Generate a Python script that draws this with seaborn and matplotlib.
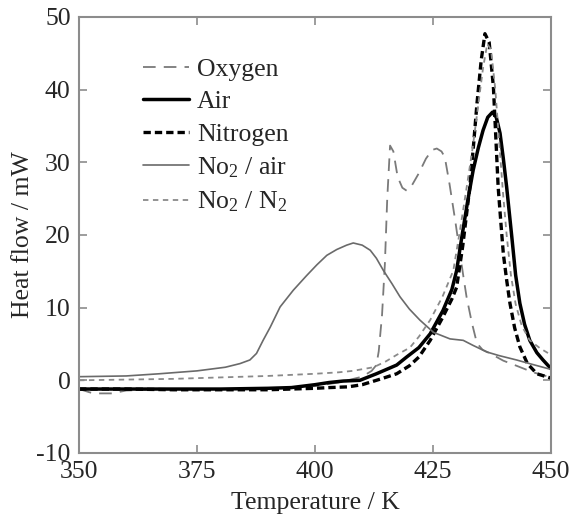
import matplotlib
matplotlib.use('Agg')
import numpy as np
import pandas as pd
import matplotlib.pyplot as plt
import seaborn as sns

# --- data (temperature in K, heat flow in mW) ---
oxygen_t = [350, 353, 357, 360, 370, 380, 390, 400, 405, 410, 412, 413, 413.5, 414.2, 414.8,
            415.3, 415.9, 416.6, 417.5, 418.5, 419.4, 420.5, 422, 423.5, 424.8, 425.8, 426.8,
            427.5, 428.5, 429.7, 430.7, 431.5, 432.1, 433.2, 434.3, 435.5, 437.1, 439.9, 442.7,
            446.2, 450]
oxygen_hf = [-1.2, -1.8, -1.8, -1.4, -1.2, -1.2, -1.1, -0.8, -0.3, 0.5, 1.3, 2.1, 4, 9, 16,
             25, 32.3, 31.5, 28, 26.5, 26.1, 26.8, 28.5, 30.5, 31.7, 31.9, 31.5,
             30.7, 27, 22, 17.5, 14, 11.5, 8, 5.1, 4.2, 3.7, 2.7, 2.0,
             1.1, 0.4]

air_t = [350, 360, 370, 380, 390, 395, 400, 403, 406, 409.5, 413, 417.3, 419.4, 422, 424.4,
         427.1, 429, 430, 431.1, 432.3, 433.5, 434.6, 435.6, 436.6, 437.6, 438.4, 439.2,
         439.9, 440.6, 441.7, 442.5, 443.4, 444.4, 445.5, 447, 448.3, 450]
air_hf = [-1.2, -1.2, -1.2, -1.2, -1.1, -1.0, -0.6, -0.3, -0.1, 0, 0.9, 2.1, 3.2, 4.5, 6.4,
          9.6, 12.5, 15.1, 19.7, 24.5, 28.9, 32, 34.4, 36.2, 36.9, 36.2, 34,
          30.5, 26.6, 19.7, 14.5, 10.6, 7.7, 5.5, 3.8, 2.8, 1.6]

nitrogen_t = [350, 360, 370, 380, 390, 400, 403, 407, 410, 414, 417.3, 420, 422, 424.4, 427,
              429, 430, 431.3, 432.8, 433.6, 434.3, 435.2, 436, 436.9, 437.8, 438.3, 438.8,
              439.4, 439.9, 440.6, 441.3, 442.3, 443.4, 445, 447, 450]
nitrogen_hf = [-1.2, -1.2, -1.3, -1.3, -1.3, -1.1, -1.0, -0.9, -0.6, 0.2, 0.9, 2.0, 3.2, 5.5, 8.6,
               11.2, 12.8, 18.5, 26.6, 32.5, 38, 44, 47.7, 46.5, 40.3, 33.5, 26.6,
               21.5, 17.4, 13.8, 10.6, 7.2, 4.6, 2.3, 0.9, 0.3]

no2_air_t = [350, 360, 367, 375, 381, 384.1, 386.2, 387.6, 389, 390.5, 392.6, 395.4, 398.2,
             400.4, 402.5, 404.6, 406.7, 408.1, 410, 411.7, 413, 414.5, 416.3, 418, 420, 422.2,
             425.1, 428.6, 431.4, 433.5, 436.4, 439, 442.7, 446, 450]
no2_air_hf = [0.5, 0.6, 0.9, 1.3, 1.8, 2.3, 2.8, 3.7, 5.5, 7.3, 10.1, 12.4, 14.4,
              15.9, 17.2, 18.0, 18.6, 18.9, 18.6, 17.9, 16.8, 15.1, 13.3, 11.5, 9.8, 8.3,
              6.6, 5.7, 5.5, 4.8, 3.9, 3.4, 2.8, 2.2, 1.5]

no2_n2_t = [350, 360, 370, 380, 390, 400, 405, 408, 412.4, 415, 417.3, 420.1, 422, 424.4, 427,
            429.3, 430.7, 432, 433.4, 434.6, 435.6, 436.5, 437.3, 438.2, 439, 439.8, 440.6,
            441.5, 442.5, 443.8, 445.5, 447.7, 450]
no2_n2_hf = [0, 0.1, 0.2, 0.4, 0.6, 0.9, 1.1, 1.3, 1.8, 2.6, 3.5, 4.5, 6.0, 8.3, 11.5,
             15.1, 20.6, 26, 32, 38, 43, 46.3, 45.5, 40, 33, 26, 20,
             14.5, 10.5, 7.5, 5.5, 4.4, 3.5]

labels = ['Oxygen', 'Air', 'Nitrogen', 'No$_2$ / air', 'No$_2$ / N$_2$']

sns.set_style('ticks')
plt.rcParams['font.family'] = ['Liberation Serif', 'DejaVu Serif']
plt.rcParams['mathtext.fontset'] = 'custom'
plt.rcParams['mathtext.rm'] = 'Liberation Serif'
plt.rcParams['mathtext.it'] = 'Liberation Serif:italic'
plt.rcParams['axes.unicode_minus'] = False

fig = plt.figure(figsize=(5.71, 5.29), dpi=100)
ax = fig.add_axes([0.1384, 0.1437, 0.8266, 0.8242])

series = [
    (oxygen_t, oxygen_hf, dict(color='#7a7a7a', lw=1.3, linestyle=(0, (7, 4.5)))),
    (air_t, air_hf, dict(color='black', lw=2.5, linestyle='-')),
    (nitrogen_t, nitrogen_hf, dict(color='black', lw=2.4, linestyle=(0, (2.2, 1.2)))),
    (no2_air_t, no2_air_hf, dict(color='#6a6a6a', lw=1.2, linestyle='-')),
    (no2_n2_t, no2_n2_hf, dict(color='#8a8a8a', lw=1.3, linestyle=(0, (3, 2.5)))),
]
for (t, hf, style), lab in zip(series, labels):
    df = pd.DataFrame({'T': t, 'HF': hf})
    sns.lineplot(data=df, x='T', y='HF', ax=ax, sort=False, estimator=None, label=lab, **style)

ax.set_xlim(350, 450)
ax.set_ylim(-10, 50)
ax.set_xticks([350, 375, 400, 425, 450])
ax.set_yticks([-10, 0, 10, 20, 30, 40, 50])
ax.set_xlabel('Temperature / K', fontsize=18.5, labelpad=6)
ax.set_ylabel('Heat flow / mW', fontsize=18.5, labelpad=2)
ax.tick_params(direction='in', top=True, right=True, length=6, width=1.2,
               color='#8c8c8c', labelsize=18.5, pad=6)
for sp in ax.spines.values():
    sp.set_color('#8c8c8c')
    sp.set_linewidth(1.5)

leg = ax.legend(loc='upper left', bbox_to_anchor=(0.136, 0.906), frameon=False,
                fontsize=18.5, handlelength=1.8, handletextpad=0.3, labelspacing=0.37,
                borderpad=0, borderaxespad=0)

fig.savefig('out.png', dpi=100)
